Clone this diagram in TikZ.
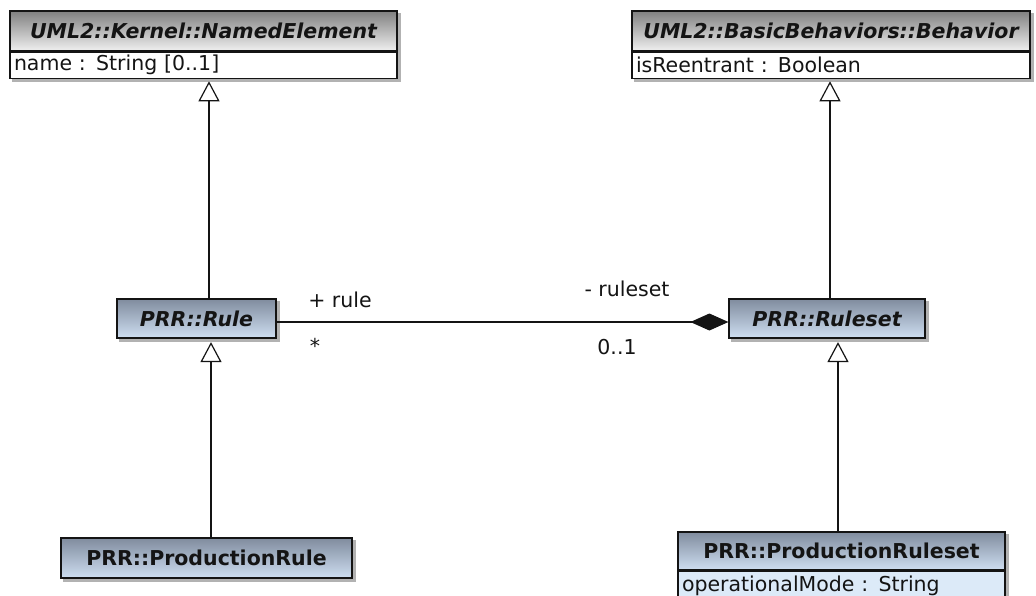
\documentclass[tikz,border=0pt]{standalone}
\usepackage{fontspec}
\setmainfont{DejaVu Sans}
\usetikzlibrary{arrows.meta,backgrounds}

\definecolor{hdrgraytop}{RGB}{128,128,128}
\definecolor{hdrgraybot}{RGB}{240,240,240}
\definecolor{hdrbluetop}{RGB}{128,140,158}
\definecolor{hdrbluebot}{RGB}{206,222,241}
\definecolor{attrblue}{RGB}{220,234,248}
\definecolor{ink}{RGB}{20,20,20}

\tikzset{
  txt/.style={font=\fontsize{20.5}{24}\selectfont, text=ink},
  classhdr/.style={draw=ink, line width=1.2pt, inner sep=0pt, txt, font=\fontsize{20.5}{24}\selectfont\bfseries},
  abstracthdr/.style={classhdr, font=\fontsize{20.5}{24}\selectfont\bfseries\itshape},
  grayhdr/.style={top color=hdrgraytop, bottom color=hdrgraybot},
  bluehdr/.style={top color=hdrbluetop, bottom color=hdrbluebot},
  attrbox/.style={draw=ink, line width=1.2pt, inner ysep=0pt, inner xsep=4pt, align=left, anchor=north, txt},
  boxshadow/.style={fill=black, opacity=0.3},
  gen/.style={line width=1.2pt, draw=ink, -{Triangle[open, length=20pt, width=21pt, line width=1.2pt]}},
  comp/.style={line width=1.2pt, draw=ink, -{Diamond[length=38pt, width=17pt, fill=ink]}},
  role/.style={txt, inner sep=0pt}
}

\begin{document}
\begin{tikzpicture}[x=1pt, y=-1pt]
\useasboundingbox (0,0) rectangle (1036,595);

% UML2::Kernel::NamedElement
\node[abstracthdr, grayhdr, minimum width=387pt, minimum height=40pt] (neh) at (203.5,31) {UML2::Kernel::NamedElement};
\node[attrbox, fill=white, text width=379pt, minimum height=26pt] (nea) at (neh.south) {name : String [0..1]};

% UML2::BasicBehaviors::Behavior
\node[abstracthdr, grayhdr, minimum width=398pt, minimum height=40pt] (bhh) at (831,31) {UML2::BasicBehaviors::Behavior};
\node[attrbox, fill=white, text width=390pt, minimum height=26pt] (bha) at (bhh.south) {isReentrant : Boolean};

% PRR::Rule and PRR::Ruleset
\node[abstracthdr, bluehdr, minimum width=159pt, minimum height=39pt] (rule) at (196.5,318.5) {PRR::Rule};
\node[abstracthdr, bluehdr, minimum width=196pt, minimum height=39pt] (rs) at (827,318.5) {PRR::Ruleset};

% PRR::ProductionRule
\node[classhdr, bluehdr, minimum width=291pt, minimum height=40pt] (pr) at (206.5,558) {PRR::ProductionRule};

% PRR::ProductionRuleset
\node[classhdr, bluehdr, minimum width=327pt, minimum height=38pt] (prsh) at (841.5,551) {PRR::ProductionRuleset};
\node[attrbox, fill=attrblue, text width=319pt, minimum height=30pt] (prsa) at (prsh.south) {operationalMode : String};

% drop shadows behind the class boxes
\begin{scope}[on background layer]
  \fill[white] (0,0) rectangle (1036,595);
  \fill[boxshadow] ([shift={(3pt,-3pt)}]neh.north west) rectangle ([shift={(3pt,-3pt)}]nea.south east);
  \fill[boxshadow] ([shift={(3pt,-3pt)}]bhh.north west) rectangle ([shift={(3pt,-3pt)}]bha.south east);
  \fill[boxshadow] ([shift={(3pt,-3pt)}]rule.north west) rectangle ([shift={(3pt,-3pt)}]rule.south east);
  \fill[boxshadow] ([shift={(3pt,-3pt)}]rs.north west) rectangle ([shift={(3pt,-3pt)}]rs.south east);
  \fill[boxshadow] ([shift={(3pt,-3pt)}]pr.north west) rectangle ([shift={(3pt,-3pt)}]pr.south east);
  \fill[boxshadow] ([shift={(3pt,-3pt)}]prsh.north west) rectangle ([shift={(3pt,-3pt)}]prsa.south east);
\end{scope}

% generalizations
\draw[gen, shorten >=2.5pt] ([xshift=12.5pt]rule.north) -- ([xshift=12.5pt]rule.north |- nea.south);
\draw[gen, shorten >=2.5pt] ([xshift=3pt]rs.north) -- ([xshift=3pt]rs.north |- bha.south);
\draw[gen, shorten >=3.5pt] ([xshift=4.5pt]pr.north) -- ([xshift=4.5pt]pr.north |- rule.south);
\draw[gen, shorten >=3.5pt] ([xshift=-3.5pt]prsh.north) -- ([xshift=-3.5pt]prsh.north |- rs.south);

% composition Ruleset <>-- Rule
\draw[comp] ([yshift=-3.5pt]rule.east) -- ([yshift=-3.5pt]rs.west);

% association end labels
\node[role] (lrule) at (340,300) {+ rule};
\node[role] (lmult) at (315,346) {*};
\node[role] (lrs) at (627,289) {- ruleset};
\node[role] (lrsm) at (617,347) {0..1};
\end{tikzpicture}
\end{document}
